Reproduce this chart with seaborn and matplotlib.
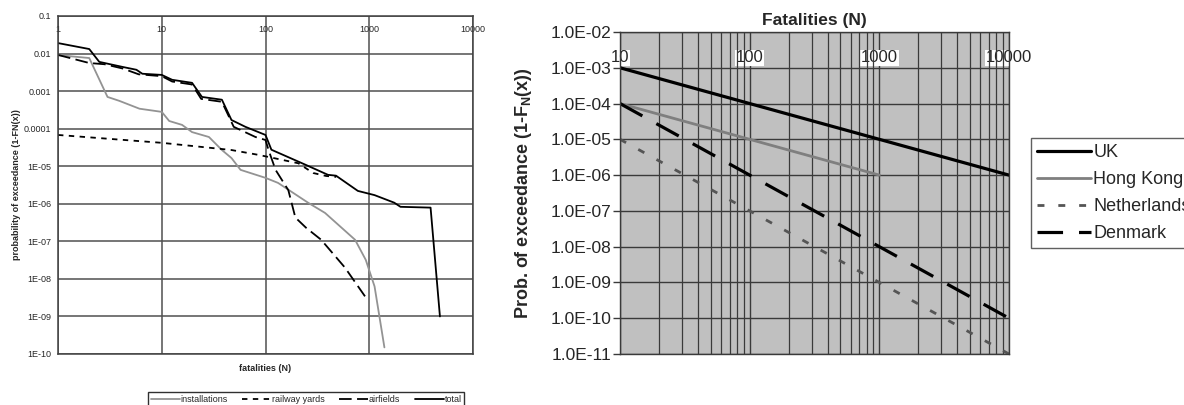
import numpy as np
import pandas as pd
import seaborn as sns
import matplotlib.pyplot as plt
from matplotlib.ticker import FixedLocator, FixedFormatter, NullLocator, LogLocator

sns.set_style("white")
plt.rcParams['font.family'] = ['Liberation Sans', 'DejaVu Sans']
plt.rcParams['mathtext.fontset'] = 'custom'
plt.rcParams['mathtext.rm'] = 'Liberation Sans'
plt.rcParams['mathtext.bf'] = 'Liberation Sans:bold'

# ---- left chart: empirical curves ----
inst_n = [1, 2, 3.0, 3.9, 6.1, 10, 11.8, 15.7, 19.6, 28.5, 38, 47, 57.5, 100, 132, 257, 375, 730, 926, 1125, 1400]
inst_p = [9.1e-3, 7.6e-3, 7.0e-4, 5.5e-4, 3.4e-4, 2.8e-4, 1.6e-4, 1.26e-4, 8.1e-5, 6.0e-5, 2.7e-5, 1.65e-5,
          8.0e-6, 4.9e-6, 3.6e-6, 1.07e-6, 5.7e-7, 1.1e-7, 3.2e-8, 6.3e-9, 1.5e-10]

rail_n = [1, 10, 47, 86, 207, 288, 384, 480]
rail_p = [6.8e-5, 4.2e-5, 2.7e-5, 2.0e-5, 1.2e-5, 6.6e-6, 5.5e-6, 5.2e-6]

air_n = [1, 2, 2.8, 4.2, 6.0, 10, 12.6, 19.6, 24, 38, 47, 49.4, 80, 100, 107, 125, 166, 194, 246, 344, 583, 926]
air_p = [9.2e-3, 5.6e-3, 5.2e-3, 4.0e-3, 2.8e-3, 2.5e-3, 1.8e-3, 1.5e-3, 6.2e-4, 5.2e-4, 1.5e-4, 1.12e-4,
         6.0e-5, 5.0e-5, 2.7e-5, 8.0e-6, 2.3e-6, 4.3e-7, 2.3e-7, 1.1e-7, 2.0e-8, 3.2e-9]

total_n = [1, 2, 2.5, 4.2, 5.7, 6.5, 10, 12.6, 19.6, 24.4, 38, 47, 64, 100, 114, 242, 400, 478, 777, 1125,
           1740, 2000, 3900, 4800]
total_p = [1.9e-2, 1.32e-2, 6.0e-3, 4.4e-3, 3.7e-3, 2.9e-3, 2.7e-3, 2.0e-3, 1.66e-3, 7.0e-4, 5.9e-4, 1.7e-4,
           1.12e-4, 6.8e-5, 2.75e-5, 1.1e-5, 5.9e-6, 5.6e-6, 2.2e-6, 1.7e-6, 1.07e-6, 8.3e-7, 7.9e-7, 1.0e-9]

left_xticks = [1, 10, 100, 1000, 10000]
left_xlabels = ['1', '10', '100', '1000', '10000']
left_yticks = [1e-1, 1e-2, 1e-3, 1e-4, 1e-5, 1e-6, 1e-7, 1e-8, 1e-9, 1e-10]
left_ylabels = ['0.1', '0.01', '0.001', '0.0001', '1E-05', '1E-06', '1E-07', '1E-08', '1E-09', '1E-10']

# ---- right chart: national criteria ----
uk_n, uk_p = [10, 10000], [1e-3, 1e-6]
hk_n, hk_p = [10, 1000], [1e-4, 1e-6]
nl_n, nl_p = [10, 10000], [1e-5, 1e-11]
dk_n, dk_p = [10, 10000], [1e-4, 1e-10]

right_xticks = [10, 100, 1000, 10000]
right_xlabels = ['10', '100', '1000', '10000']
right_yticks = [1e-2, 1e-3, 1e-4, 1e-5, 1e-6, 1e-7, 1e-8, 1e-9, 1e-10, 1e-11]
right_ylabels = ['1.0E-02', '1.0E-03', '1.0E-04', '1.0E-05', '1.0E-06', '1.0E-07',
                 '1.0E-08', '1.0E-09', '1.0E-10', '1.0E-11']

W, H = 1184, 405
fig = plt.figure(figsize=(W / 100, H / 100), dpi=100)
ax1 = fig.add_axes([58 / W, 51 / H, 415 / W, 338 / H])
ax2 = fig.add_axes([620 / W, 51 / H, 389 / W, 322 / H])

for ax in (ax1, ax2):
    ax.set_xscale('log')
    ax.set_yscale('log')

# left panel
sns.lineplot(x=inst_n, y=inst_p, ax=ax1, color='#939393', lw=1.3, label='installations', estimator=None)
sns.lineplot(x=rail_n, y=rail_p, ax=ax1, color='black', lw=1.3, linestyle=(0, (3, 3)),
             label='railway yards', estimator=None)
sns.lineplot(x=air_n, y=air_p, ax=ax1, color='black', lw=1.3, linestyle=(0, (7, 3)),
             label='airfields', estimator=None)
sns.lineplot(x=total_n, y=total_p, ax=ax1, color='black', lw=1.3, label='total', estimator=None)

ax1.set_xlim(1, 10000)
ax1.set_ylim(1e-10, 0.1)
ax1.xaxis.set_major_locator(FixedLocator(left_xticks))
ax1.xaxis.set_major_formatter(FixedFormatter(left_xlabels))
ax1.yaxis.set_major_locator(FixedLocator(left_yticks))
ax1.yaxis.set_major_formatter(FixedFormatter(left_ylabels))
ax1.xaxis.set_minor_locator(NullLocator())
ax1.yaxis.set_minor_locator(NullLocator())
ax1.grid(True, which='major', color='#505050', lw=1.1)
ax1.tick_params(axis='x', top=True, bottom=False, labeltop=True, labelbottom=False,
                length=0, pad=-13, labelsize=6.5)
ax1.tick_params(axis='y', length=2, pad=3, labelsize=6.5)
for s in ax1.spines.values():
    s.set_color('#404040')
    s.set_linewidth(1.1)
ax1.set_xlabel('fatalities (N)', fontsize=6.5, fontweight='bold')
ax1.xaxis.set_label_coords(0.5, -0.03)
ax1.set_ylabel('probability of exceedance (1-FN(x))', fontsize=6.5, fontweight='bold')
ax1.yaxis.set_label_coords(-0.09, 0.5)
if ax1.get_legend():
    ax1.get_legend().remove()
h1, l1 = ax1.get_legend_handles_labels()
fig.legend(h1, l1, loc='upper left', bbox_to_anchor=(148 / W, 1 - 392 / H), ncol=4,
           fontsize=6.5, frameon=True, fancybox=False, edgecolor='#303030', framealpha=1,
           handlelength=3.2, handletextpad=0.1, columnspacing=1.6, borderpad=0.3, borderaxespad=0)

# right panel
ax2.set_facecolor('#c0c0c0')
sns.lineplot(x=uk_n, y=uk_p, ax=ax2, color='black', lw=2.3, label='UK', estimator=None)
sns.lineplot(x=hk_n, y=hk_p, ax=ax2, color='#7f7f7f', lw=2.0, label='Hong Kong', estimator=None)
sns.lineplot(x=nl_n, y=nl_p, ax=ax2, color='#555555', lw=2.0, linestyle=(0, (2.5, 5)),
             label='Netherlands', estimator=None)
sns.lineplot(x=dk_n, y=dk_p, ax=ax2, color='black', lw=2.3, linestyle=(0, (8, 5)),
             label='Denmark', estimator=None)

ax2.set_xlim(10, 10000)
ax2.set_ylim(1e-11, 1e-2)
ax2.xaxis.set_major_locator(FixedLocator(right_xticks))
ax2.xaxis.set_major_formatter(FixedFormatter(right_xlabels))
ax2.xaxis.set_minor_locator(LogLocator(base=10, subs=np.arange(2, 10)))
ax2.yaxis.set_major_locator(FixedLocator(right_yticks))
ax2.yaxis.set_major_formatter(FixedFormatter(right_ylabels))
ax2.yaxis.set_minor_locator(NullLocator())
ax2.grid(True, which='major', color='#3a3a3a', lw=1.0)
ax2.grid(True, which='minor', axis='x', color='#3a3a3a', lw=0.9)
ax2.set_axisbelow(True)
ax2.tick_params(axis='x', which='both', top=True, bottom=False, labeltop=True, labelbottom=False,
                length=0, pad=-24, labelsize=12)
ax2.tick_params(axis='y', direction='out', length=5, width=1, color='#3a3a3a', pad=1, labelsize=12.5,
                left=True)
for t in ax2.xaxis.get_major_ticks():
    t.label2.set_bbox(dict(facecolor='white', edgecolor='none', pad=0.5))
for s in ax2.spines.values():
    s.set_color('#3a3a3a')
    s.set_linewidth(1.0)
ax2.set_title('Fatalities (N)', fontsize=12.5, fontweight='bold', y=1.0, pad=5)
ax2.set_ylabel(r'Prob. of exceedance (1-F$_\mathbf{N}$(x))', fontsize=13, fontweight='bold')
ax2.yaxis.set_label_coords(-0.22, 0.5)
if ax2.get_legend():
    ax2.get_legend().remove()
h2, l2 = ax2.get_legend_handles_labels()
fig.legend(h2, l2, loc='upper left', bbox_to_anchor=(1031 / W, 1 - 138 / H), ncol=1,
           fontsize=13, frameon=True, fancybox=False, edgecolor='#606060', framealpha=1,
           handlelength=3.0, handletextpad=0.1, labelspacing=0.55, borderpad=0.35, borderaxespad=0)

fig.savefig('out.png', dpi=100)
